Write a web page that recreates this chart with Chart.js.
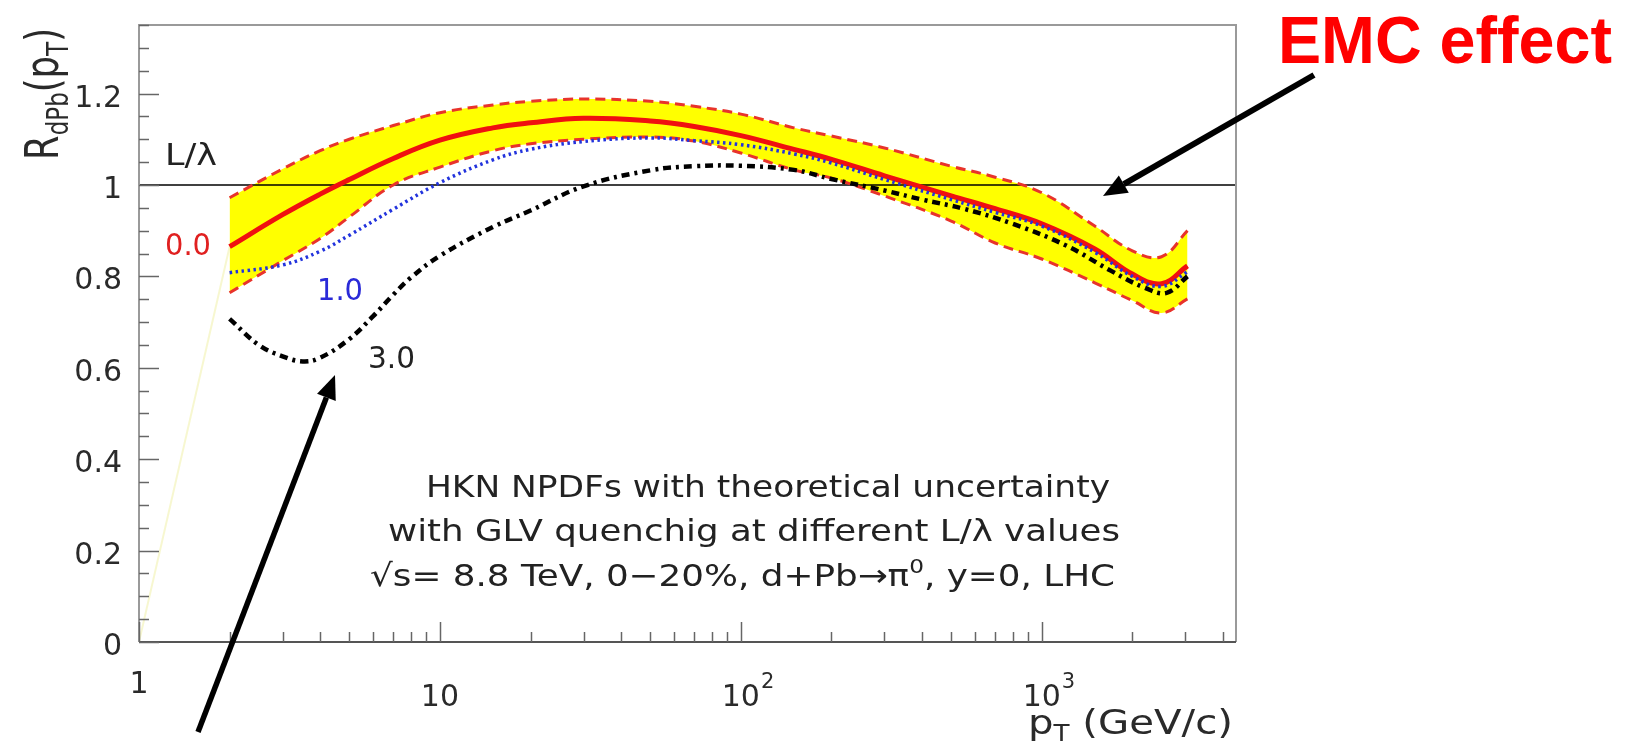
<!DOCTYPE html>
<html>
<head>
<meta charset="utf-8">
<script src="https://cdn.jsdelivr.net/npm/chart.js@4.4.1/dist/chart.umd.min.js"></script>
<style>
  html, body { margin: 0; padding: 0; background: #fff; overflow: hidden; }
  #caja { width: 1636px; height: 749px; }
</style>
</head>
<body>
<div id="caja"><canvas id="grafico" width="1636" height="749"></canvas></div>
<script>
// ================== Datos ==================
const PT = [2, 3, 4, 5, 7, 10, 15, 20, 30, 50, 70, 100, 150, 200, 300, 500, 700, 1000, 1500, 2000, 2500, 3050];
const R_CENTRAL = [0.865, 0.935, 0.98, 1.012, 1.058, 1.098, 1.125, 1.136, 1.146, 1.14, 1.128, 1.108, 1.078, 1.056, 1.02, 0.976, 0.948, 0.915, 0.86, 0.805, 0.784, 0.823];
const R_SUPERIOR = [0.972, 1.035, 1.075, 1.10, 1.13, 1.158, 1.175, 1.183, 1.188, 1.183, 1.172, 1.155, 1.125, 1.107, 1.081, 1.041, 1.017, 0.983, 0.91, 0.856, 0.843, 0.90];
const R_INFERIOR = [0.764, 0.834, 0.883, 0.93, 1.0, 1.039, 1.075, 1.09, 1.10, 1.105, 1.096, 1.07, 1.033, 1.015, 0.976, 0.921, 0.873, 0.838, 0.786, 0.747, 0.72, 0.751];
const R_L1 = [0.808, 0.825, 0.855, 0.89, 0.947, 1.005, 1.055, 1.078, 1.095, 1.103, 1.097, 1.088, 1.068, 1.048, 1.012, 0.968, 0.94, 0.91, 0.853, 0.80, 0.778, 0.81];

const PT_L3 = [2, 2.5, 3, 3.5, 4, 5, 6, 7, 8, 10, 15, 20, 30, 50, 70, 100, 150, 200, 300, 400, 550, 800, 1200, 1700, 2200, 2600, 3050];
const R_L3 = [0.707, 0.65, 0.625, 0.614, 0.622, 0.663, 0.713, 0.76, 0.797, 0.845, 0.908, 0.944, 0.997, 1.032, 1.041, 1.042, 1.033, 1.013, 0.988, 0.968, 0.948, 0.915, 0.868, 0.812, 0.775, 0.764, 0.80];

// línea tenue que sale del origen
const PT_TENUE = [1, 2];
const R_TENUE = [0, 0.865];

// referencia R = 1
const PT_REF = [1, 4420];
const R_REF = [1, 1];

// ================== Ejes ==================
const X_MIN = 1, X_MAX = 4420;
const Y_MIN = 0, Y_MAX = 1.35;
const Y_TICKS = [0, 0.2, 0.4, 0.6, 0.8, 1.0, 1.2];
const Y_LABELS = ["0", "0.2", "0.4", "0.6", "0.8", "1", "1.2"];
const X_TICKS = [1, 10, 100, 1000];
const X_LABELS = ["1", "10", "10", "10"];
const X_EXPS = ["", "", "2", "3"];

const FUENTE = "'DejaVu Sans'";

function puntos(xs, ys) {
  return xs.map((x, i) => ({ x: x, y: ys[i] }));
}

// ================== Texto con sub/superíndices ==================
function fuenteSeg(s, size) {
  const fs = (s.sub || s.sup) ? size * 0.65 : size;
  return `${s.bold ? "bold " : ""}${fs}px ${s.fam || FUENTE}`;
}

function medir(ctx, segs, size) {
  let w = 0;
  segs.forEach(s => {
    ctx.font = fuenteSeg(s, size);
    w += ctx.measureText(s.t).width;
  });
  return w;
}

function texto(ctx, segs, x, y, size, color, ancho, align) {
  if (typeof segs === "string") segs = [{ t: segs }];
  const w = medir(ctx, segs, size);
  const sx = ancho ? ancho / w : 1;
  ctx.save();
  let x0 = x;
  if (align === "right") x0 = x - w * sx;
  if (align === "center") x0 = x - w * sx / 2;
  ctx.translate(x0, y);
  ctx.scale(sx, 1);
  ctx.fillStyle = color;
  ctx.textBaseline = "alphabetic";
  ctx.textAlign = "left";
  let cx = 0;
  segs.forEach(s => {
    ctx.font = fuenteSeg(s, size);
    const dy = s.sub ? size * 0.22 : s.sup ? -size * 0.42 : 0;
    ctx.fillText(s.t, cx, dy);
    cx += ctx.measureText(s.t).width;
  });
  ctx.restore();
}

function flecha(ctx, x1, y1, x2, y2, grosor, largo, medio) {
  const ang = Math.atan2(y2 - y1, x2 - x1);
  const bx = x2 - largo * Math.cos(ang), by = y2 - largo * Math.sin(ang);
  ctx.save();
  ctx.strokeStyle = "#000"; ctx.fillStyle = "#000";
  ctx.lineWidth = grosor; ctx.lineCap = "butt";
  ctx.beginPath(); ctx.moveTo(x1, y1); ctx.lineTo(bx, by); ctx.stroke();
  ctx.beginPath();
  ctx.moveTo(x2, y2);
  ctx.lineTo(bx + medio * Math.sin(ang), by - medio * Math.cos(ang));
  ctx.lineTo(bx - medio * Math.sin(ang), by + medio * Math.cos(ang));
  ctx.closePath(); ctx.fill();
  ctx.restore();
}

// ================== Marco, marcas y rótulos (estilo ROOT) ==================
const marcoRoot = {
  id: "marcoRoot",
  afterDraw(chart) {
    const ctx = chart.ctx;
    const a = chart.chartArea;
    const sx = chart.scales.x, sy = chart.scales.y;

    ctx.save();
    // marco
    ctx.lineWidth = 2;
    ctx.strokeStyle = "#9a9a9a";
    ctx.beginPath();
    ctx.moveTo(a.left, a.bottom); ctx.lineTo(a.left, a.top);
    ctx.lineTo(a.right, a.top); ctx.lineTo(a.right, a.bottom);
    ctx.stroke();
    ctx.strokeStyle = "#555";
    ctx.beginPath(); ctx.moveTo(a.left, a.bottom); ctx.lineTo(a.right, a.bottom); ctx.stroke();

    // marcas eje Y (hacia dentro)
    ctx.strokeStyle = "#666"; ctx.lineWidth = 1.5;
    for (let v = 0; v <= Y_MAX + 1e-9; v += 0.05) {
      const y = Math.round(sy.getPixelForValue(v)) + 0.5;
      const mayor = Math.abs(v / 0.2 - Math.round(v / 0.2)) < 1e-6;
      ctx.beginPath(); ctx.moveTo(a.left, y); ctx.lineTo(a.left + (mayor ? 20 : 10), y); ctx.stroke();
    }
    // marcas eje X (log)
    for (let d = 1; d <= 1000; d *= 10) {
      for (let m = 1; m <= 9; m++) {
        const v = d * m;
        if (v > X_MAX) break;
        const x = Math.round(sx.getPixelForValue(v)) + 0.5;
        ctx.beginPath(); ctx.moveTo(x, a.bottom); ctx.lineTo(x, a.bottom - (m === 1 ? 20 : 10)); ctx.stroke();
      }
    }

    // rótulos Y
    Y_TICKS.forEach((v, i) => {
      texto(ctx, Y_LABELS[i], 122, sy.getPixelForValue(v) + 13, 30, "#2a2a2a", null, "right");
    });
    // rótulos X ("1" algo más arriba, como en el original)
    X_TICKS.forEach((v, i) => {
      const x = sx.getPixelForValue(v);
      const base = i === 0 ? 693 : 706;
      ctx.font = `30px ${FUENTE}`;
      const w = ctx.measureText(X_LABELS[i]).width;
      texto(ctx, X_LABELS[i], x - w / 2, base, 30, "#2a2a2a", null, "left");
      if (X_EXPS[i]) texto(ctx, X_EXPS[i], x + w / 2 + 1, base - 18, 21, "#2a2a2a", null, "left");
    });

    // títulos de ejes
    texto(ctx, [{ t: "p" }, { t: "T", sub: true }, { t: " (GeV/c)" }], 1233, 734, 34, "#2a2a2a", 205, "right");
    ctx.save();
    ctx.translate(58, 160);
    ctx.rotate(-Math.PI / 2);
    texto(ctx, [{ t: "R" }, { t: "dPb", sub: true }, { t: "(p" }, { t: "T", sub: true }, { t: ")" }], 0, 0, 46, "#2a2a2a", 132, "left");
    ctx.restore();

    // rótulos de curvas
    texto(ctx, "L/\u03bb", 165, 165, 30, "#222", 52, "left");
    texto(ctx, "0.0", 165, 255, 30, "#e02020", 46, "left");
    texto(ctx, "1.0", 317, 300, 30, "#2a2ad8", 46, "left");
    texto(ctx, "3.0", 368, 368, 30, "#222", 47, "left");

    // leyenda de texto
    texto(ctx, "HKN NPDFs with theoretical uncertainty", 1110, 497, 31, "#222", 684, "right");
    texto(ctx, "with GLV quenchig at different L/\u03bb values", 1120, 541, 31, "#222", 732, "right");
    texto(ctx, [{ t: "\u221as= 8.8 TeV, 0\u221220%, d+Pb\u2192\u03c0" }, { t: "0", sup: true }, { t: ", y=0, LHC" }], 1115, 586, 31, "#222", 745, "right");

    // anotación EMC
    texto(ctx, [{ t: "EMC effect", bold: true, fam: "'Liberation Sans'" }], 1278, 63, 66, "#ff0000", 334, "left");
    flecha(ctx, 1314, 75, 1103, 196, 6, 24, 10);
    flecha(ctx, 198, 732, 335, 375, 5.5, 24, 10);

    ctx.restore();
  }
};

// ================== Gráfica ==================
const ctx = document.getElementById("grafico").getContext("2d");
new Chart(ctx, {
  type: "line",
  data: {
    datasets: [
      { label: "superior", data: puntos(PT, R_SUPERIOR), borderColor: "#e8332b", borderWidth: 3, borderDash: [10, 6],
        backgroundColor: "#ffff00", fill: "+1", order: 3 },
      { label: "inferior", data: puntos(PT, R_INFERIOR), borderColor: "#e8332b", borderWidth: 3, borderDash: [10, 6],
        fill: false, order: 4 },
      { label: "L/λ = 0.0", data: puntos(PT, R_CENTRAL), borderColor: "#f01010", borderWidth: 5, fill: false, order: 2 },
      { label: "L/λ = 1.0", data: puntos(PT, R_L1), borderColor: "#2233dd", borderWidth: 3.5, borderDash: [2.5, 3.5], fill: false, order: 1 },
      { label: "L/λ = 3.0", data: puntos(PT_L3, R_L3), borderColor: "#000", borderWidth: 4.5, borderDash: [8, 5, 3, 5], fill: false, order: 0 },
      { label: "ref", data: puntos(PT_REF, R_REF), borderColor: "#000", borderWidth: 1.5, fill: false, order: 5, tension: 0 },
      { label: "tenue", data: puntos(PT_TENUE, R_TENUE), borderColor: "rgba(240,240,170,0.55)", borderWidth: 2, fill: false, order: 6, tension: 0 }
    ]
  },
  options: {
    responsive: false,
    animation: false,
    layout: { padding: { left: 139, top: 25, right: 400, bottom: 107 } },
    elements: { point: { radius: 0 }, line: { tension: 0.4 } },
    scales: {
      x: { type: "logarithmic", min: X_MIN, max: X_MAX, display: false },
      y: { type: "linear", min: Y_MIN, max: Y_MAX, display: false }
    },
    plugins: {
      legend: { display: false },
      tooltip: { enabled: false },
      filler: { drawTime: "beforeDatasetsDraw" }
    }
  },
  plugins: [marcoRoot]
});
</script>
</body>
</html>
